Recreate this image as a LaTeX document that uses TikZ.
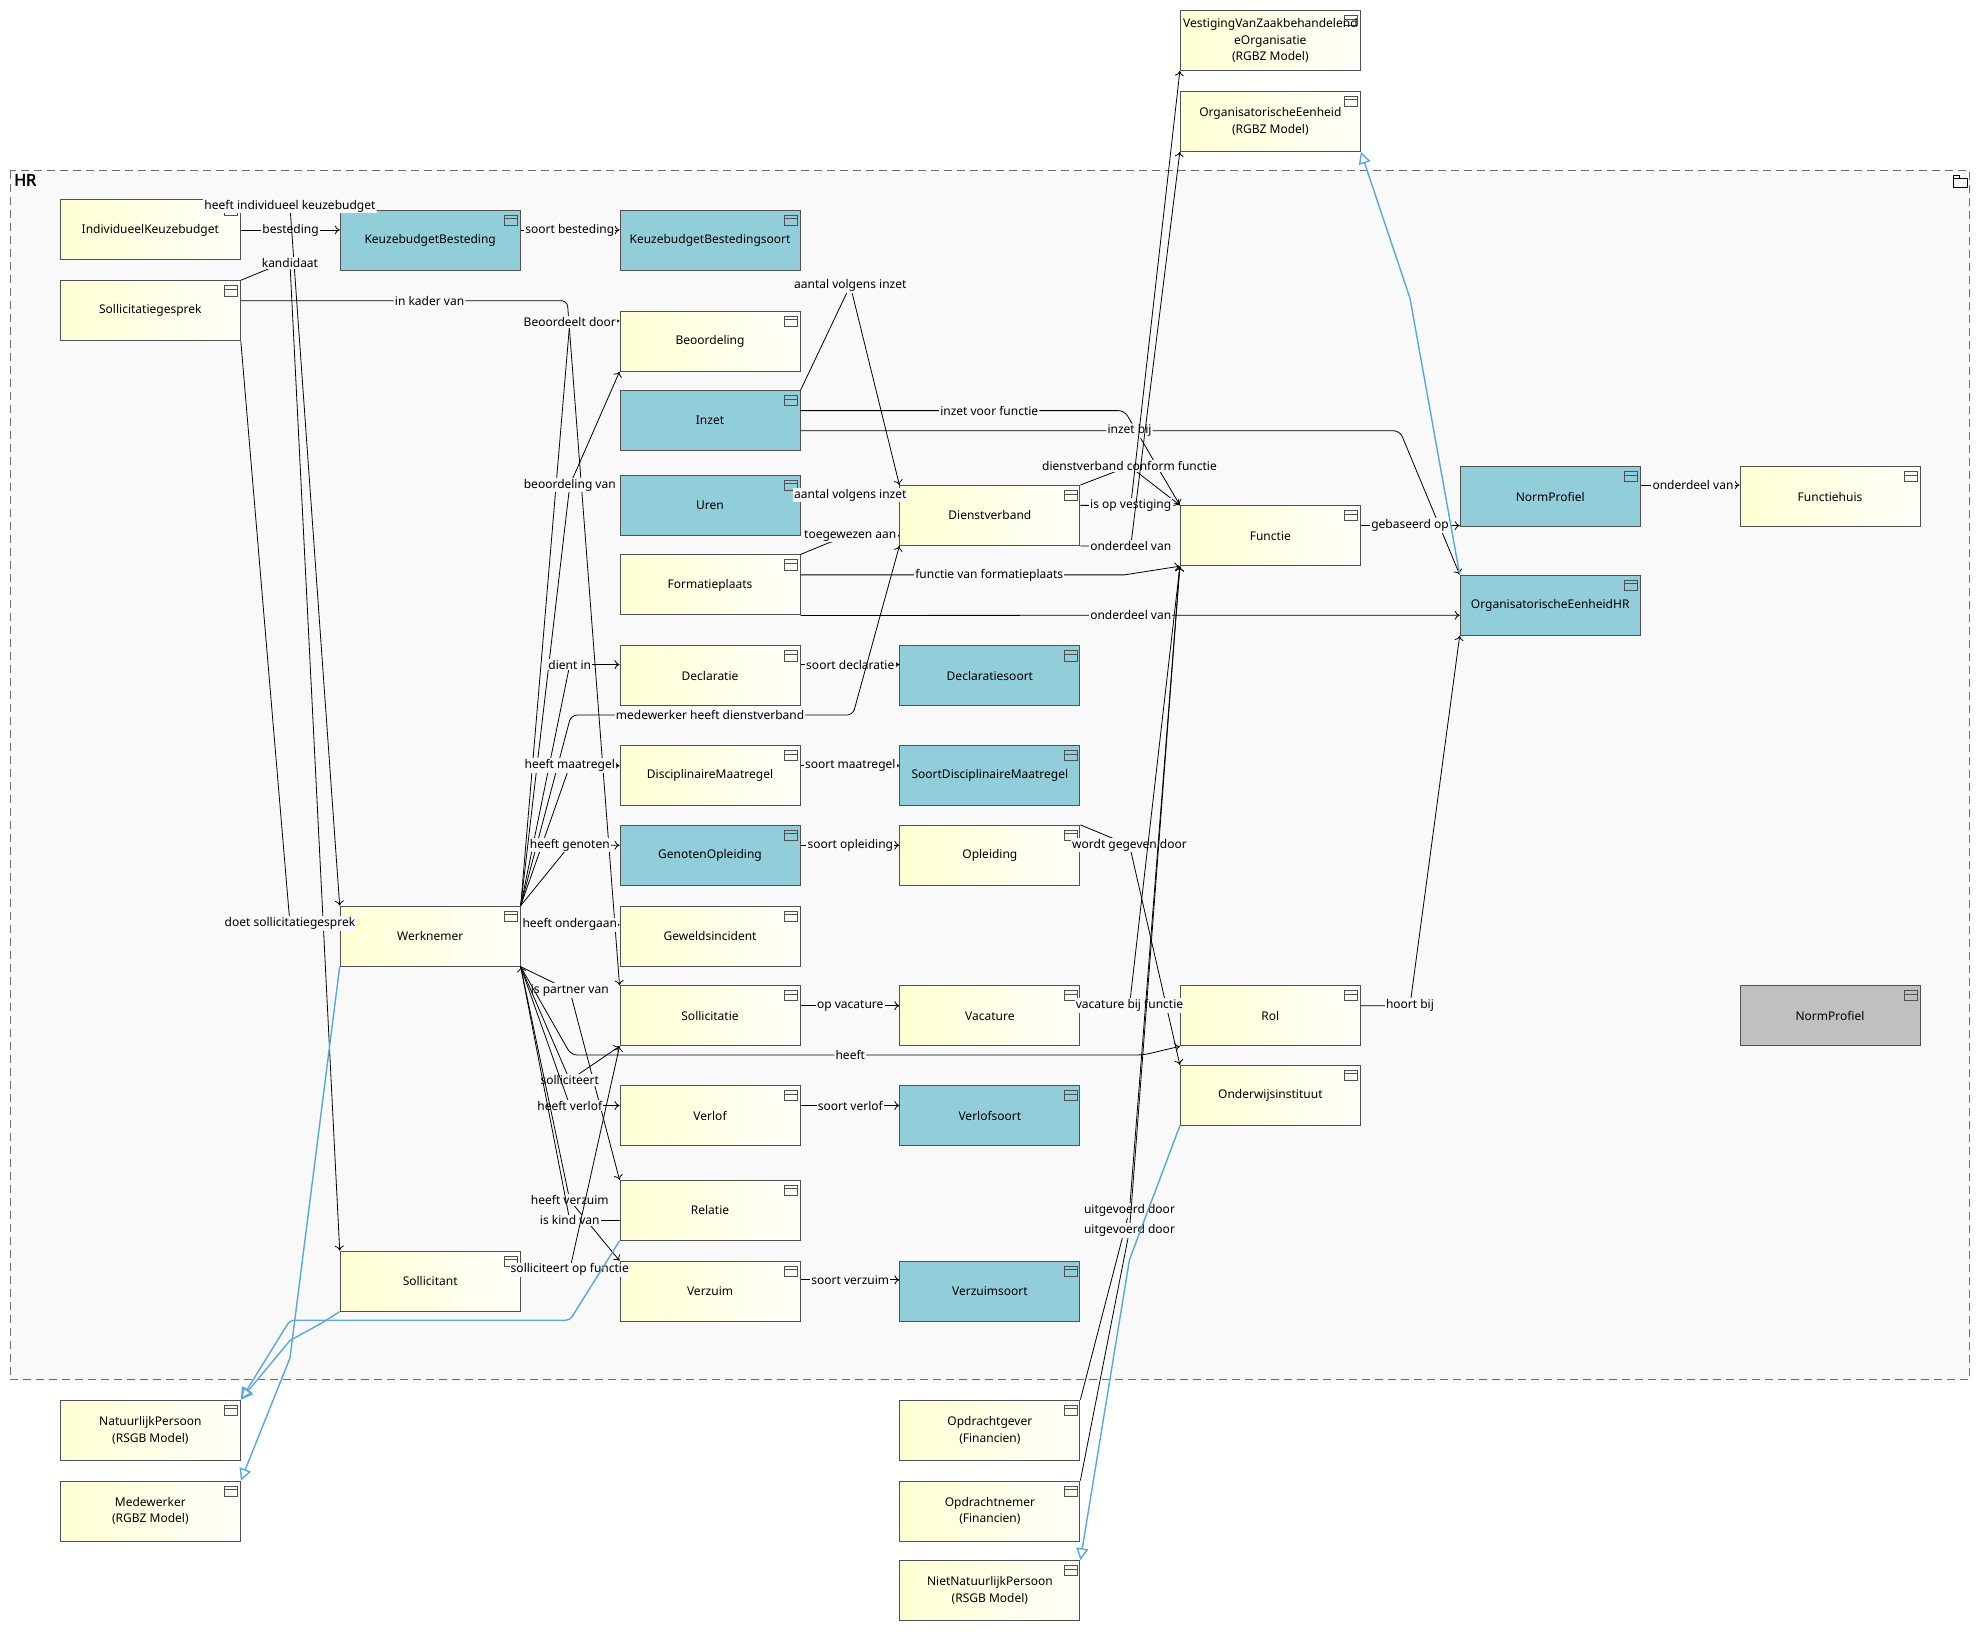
\documentclass[tikz,border=0pt]{standalone}
\usepackage{fontspec}
\setmainfont{Noto Sans}
\newfontfamily\hrfont[FakeBold=2.5]{Noto Sans}
\usetikzlibrary{arrows.meta}

\definecolor{boxyel}{RGB}{255,255,212}
\definecolor{boxwhite}{RGB}{255,255,250}
\definecolor{boxblue}{RGB}{146,205,218}
\definecolor{boxgray}{RGB}{192,192,192}
\definecolor{boxline}{RGB}{80,80,80}
\definecolor{pkgfill}{RGB}{249,249,249}
\definecolor{pkgline}{RGB}{110,110,110}
\definecolor{genblue}{RGB}{88,168,224}

\begin{document}
\begin{tikzpicture}[x=0.6317pt,y=-0.6317pt,
cls/.style={draw=boxline,line width=0.5pt,minimum width=90pt,minimum height=30pt,inner sep=1pt,align=center,font=\fontsize{6}{8.3}\selectfont,
 path picture={
  \draw[line width=0.5pt] ([xshift=-7.9pt,yshift=-2.5pt]path picture bounding box.north east) rectangle ([xshift=-1.3pt,yshift=-7.6pt]path picture bounding box.north east);
  \draw[line width=0.5pt] ([xshift=-7.9pt,yshift=-4.3pt]path picture bounding box.north east) -- ([xshift=-1.3pt,yshift=-4.3pt]path picture bounding box.north east);}},
obj/.style={cls,left color=boxyel,right color=boxwhite},
objblue/.style={cls,fill=boxblue},
objgray/.style={cls,fill=boxgray},
lbl/.style={font=\fontsize{6}{7}\selectfont,fill=pkgfill,inner sep=0.6pt},
arrow/.style={-{To[length=2.5pt,width=4.5pt]},line width=0.4pt},
line/.style={line width=0.4pt},
genarrow/.style={-{Triangle[open,length=6pt,width=6pt]},draw=genblue,line width=0.7pt}]

\useasboundingbox (0,0) rectangle (1568,1291);

\draw[draw=pkgline,fill=pkgfill,line width=0.5pt,dash pattern=on 4pt off 2.5pt] (8,135) rectangle (1559,1092);

\node[anchor=north west,inner sep=0pt,font=\hrfont\fontsize{8}{9}\selectfont] (hrtitle) at (11,137.5) {HR};

\draw[line width=0.4pt] (1546,141) rectangle (1557,148);
\draw[line width=0.4pt] (1546,141) -- (1546,138.5) -- (1551,138.5) -- (1551,141);

\node[obj] (vestiging) at (1005.5,32) {VestigingVanZaakbehandelend\\eOrganisatie\\(RGBZ Model)};

\node[obj] (orgeenheid) at (1005.5,96) {OrganisatorischeEenheid\\(RGBZ Model)};

\node[obj] (indkb) at (119,182) {IndividueelKeuzebudget};

\node[objblue] (kbbest) at (340.5,190) {KeuzebudgetBesteding};

\node[objblue] (kbbsoort) at (562,190) {KeuzebudgetBestedingsoort};

\node[obj] (sgesprek) at (119,246) {Sollicitatiegesprek};

\node[obj] (beoord) at (562,270) {Beoordeling};

\node[objblue] (inzet) at (562,333) {Inzet};

\node[objblue] (uren) at (562,400) {Uren};

\node[obj] (dienstv) at (783.5,408) {Dienstverband};

\node[obj] (functie) at (1005.5,424) {Functie};

\node[objblue] (normprof) at (1227,393) {NormProfiel};

\node[obj] (functiehuis) at (1448.5,393) {Functiehuis};

\node[obj] (formplaats) at (562,463) {Formatieplaats};

\node[objblue] (oehr) at (1227,479) {OrganisatorischeEenheidHR};

\node[obj] (decl) at (562,535) {Declaratie};

\node[objblue] (declsoort) at (783.5,535) {Declaratiesoort};

\node[obj] (dismaatr) at (562,614) {DisciplinaireMaatregel};

\node[objblue] (soortdis) at (783.5,614) {SoortDisciplinaireMaatregel};

\node[objblue] (genopl) at (562,677) {GenotenOpleiding};

\node[obj] (opleid) at (783.5,677) {Opleiding};

\node[obj] (werkn) at (340.5,741) {Werknemer};

\node[obj] (geweld) at (562,741) {Geweldsincident};

\node[obj] (sollic) at (562,804) {Sollicitatie};

\node[obj] (vacature) at (783.5,804) {Vacature};

\node[obj] (rol) at (1005.5,804) {Rol};

\node[objgray] (normgrijs) at (1448.5,804) {NormProfiel};

\node[obj] (onderwijs) at (1005.5,867) {Onderwijsinstituut};

\node[obj] (verlof) at (562,883) {Verlof};

\node[objblue] (verlofsoort) at (783.5,883) {Verlofsoort};

\node[obj] (relatie) at (562,958) {Relatie};

\node[obj] (sollicitant) at (340.5,1014) {Sollicitant};

\node[obj] (verzuim) at (562,1022) {Verzuim};

\node[objblue] (verzuimsoort) at (783.5,1022) {Verzuimsoort};

\node[obj] (natpers) at (119,1132) {NatuurlijkPersoon\\(RSGB Model)};

\node[obj] (opdrgever) at (783.5,1132) {Opdrachtgever\\(Financien)};

\node[obj] (medew) at (119,1196) {Medewerker\\(RGBZ Model)};

\node[obj] (opdrnemer) at (783.5,1196) {Opdrachtnemer\\(Financien)};

\node[obj] (nietnat) at (783.5,1259) {NietNatuurlijkPersoon\\(RSGB Model)};

\draw[arrow] (indkb.east) -- (230,182) node[lbl] {besteding} -- (kbbest.west |- 0,182);

\draw[arrow] (kbbest.east |- 0,182) -- (451,182) node[lbl] {soort besteding} -- (kbbsoort.west |- 0,182);

\draw[arrow] (indkb.east |- 0,165) -- (229.5,163) node[lbl] {heeft individueel keuzebudget} -- (werkn.north west);

\draw[arrow] (sgesprek.north east) -- (212,213) -- (229.5,208) node[lbl] {kandidaat} -- (sollicitant.north west);

\draw[line] (sgesprek.south east) -- (229.5,731) node[lbl] {doet sollicitatiegesprek} -- (werkn.west |- 0,732);

\draw[arrow,rounded corners=3pt] (sgesprek.east |- 0,238) -- (340,238) node[lbl] {in kader van} -- (449,238) -- (sollic.north west);

\draw[arrow] (werkn.north east) -- (451,255) node[lbl] {Beoordeelt door} -- (beoord.west |- 0,254);

\draw[arrow] (werkn.north east) -- (451,384) node[lbl] {beoordeling van} -- (beoord.south west);

\draw[arrow] (inzet.north east) -- (673,226) node[lbl] {aantal volgens inzet} -- (dienstv.north west);

\draw[arrow] (uren.east |- 0,392) -- (673,392) node[lbl] {aantal volgens inzet} -- (dienstv.west |- 0,392);

\draw[arrow] (formplaats.north east) -- (655,430) -- (673,424) node[lbl] {toegewezen aan} -- (dienstv.west |- 0,424);

\draw[arrow,rounded corners=3pt] (inzet.east |- 0,325) -- (783,325) node[lbl] {inzet voor functie} -- (890,325) -- (functie.north west);

\draw[arrow,rounded corners=3pt] (inzet.east |- 0,341) -- (894,341) node[lbl] {inzet bij} -- (1108,341) -- (oehr.north west);

\draw[arrow] (dienstv.north east) -- (894,369) node[lbl] {dienstverband conform functie} -- (functie.north west);

\draw[arrow] (dienstv.east |- 0,400) -- (895,400) node[lbl] {is op vestiging} -- (vestiging.south west);

\draw[arrow] (dienstv.south east) -- (895,432) node[lbl] {onderdeel van} -- (orgeenheid.south west);

\draw[arrow] (formplaats.east |- 0,455) -- (783,455) node[lbl] {functie van formatieplaats} -- (890,455) -- (functie.south west);

\draw[arrow] (formplaats.south east) -- (895,487) node[lbl] {onderdeel van} -- (oehr.west |- 0,487);

\draw[arrow] (functie.east |- 0,416) -- (1116,416) node[lbl] {gebaseerd op} -- (normprof.west |- 0,416);

\draw[arrow] (normprof.east |- 0,384) -- (1340,384) node[lbl] {onderdeel van} -- (functiehuis.west |- 0,384);

\draw[arrow] (werkn.north east) -- (451,526) node[lbl] {dient in} -- (decl.west |- 0,526);

\draw[arrow] (decl.east |- 0,526) -- (673,526) node[lbl] {soort declaratie} -- (declsoort.west |- 0,526);

\draw[arrow,rounded corners=3pt] (werkn.north east) -- (452,566) -- (562,566) node[lbl] {medewerker heeft dienstverband} -- (675,566) -- (dienstv.south west);

\draw[arrow] (werkn.north east) -- (451,606) node[lbl] {heeft maatregel} -- (dismaatr.west |- 0,606);

\draw[arrow] (dismaatr.east |- 0,606) -- (673,606) node[lbl] {soort maatregel} -- (soortdis.west |- 0,606);

\draw[arrow] (werkn.north east) -- (451,669) node[lbl] {heeft genoten} -- (genopl.west |- 0,669);

\draw[arrow] (genopl.east |- 0,669) -- (673,669) node[lbl] {soort opleiding} -- (opleid.west |- 0,669);

\draw[arrow] (opleid.north east) -- (894,669) node[lbl] {wordt gegeven door} -- (onderwijs.north west);

\draw[arrow] (werkn.east |- 0,732) -- (451,732) node[lbl] {heeft ondergaan} -- (geweld.west |- 0,732);

\draw[arrow] (sollic.east |- 0,796) -- (673,796) node[lbl] {op vacature} -- (vacature.west |- 0,796);

\draw[arrow] (vacature.east |- 0,796) -- (894,796) node[lbl] {vacature bij functie} -- (functie.south west);

\draw[arrow] (rol.east |- 0,796) -- (1116,796) node[lbl] {hoort bij} -- (oehr.south west);

\draw[arrow] (werkn.south east) -- (451,784) node[lbl] {is partner van} -- (relatie.north west);

\draw[arrow,rounded corners=3pt] (werkn.south east) -- (452,835) -- (673,835) node[lbl] {heeft} -- (905,835) -- (rol.south west);

\draw[arrow] (werkn.south east) -- (451,855) node[lbl] {solliciteert} -- (sollic.south west);

\draw[arrow] (werkn.south east) -- (451,875) node[lbl] {heeft verlof} -- (verlof.west |- 0,875);

\draw[arrow] (verlof.east |- 0,875) -- (673,875) node[lbl] {soort verlof} -- (verlofsoort.west |- 0,875);

\draw[arrow] (werkn.south east) -- (451,950) node[lbl] {heeft verzuim} -- (verzuim.north west);

\draw[arrow] (relatie.west |- 0,966) -- (451,966) node[lbl] {is kind van} -- (werkn.south east);

\draw[arrow] (verzuim.east |- 0,1013) -- (673,1013) node[lbl] {soort verzuim} -- (verzuimsoort.west |- 0,1013);

\draw[arrow] (sollicitant.east |- 0,1005) -- (451,1005) node[lbl] {solliciteert op functie} -- (sollic.south west);

\draw[arrow] (opdrgever.north east) -- (894,958) node[lbl] {uitgevoerd door} -- (functie.south west);

\draw[arrow] (opdrnemer.north east) -- (894,974) node[lbl] {uitgevoerd door} -- (functie.south west);

\draw[genarrow] (oehr.north west) -- (1116,236) -- (orgeenheid.south east);

\draw[genarrow] (onderwijs.south west) -- (894,997) -- (nietnat.north east);

\draw[genarrow] (sollicitant.south west) -- (255,1047) -- (229.5,1061) -- (natpers.north east);

\draw[genarrow,rounded corners=2pt] (relatie.south west) -- (451,1045) -- (229.5,1045) -- (natpers.north east);

\draw[genarrow] (werkn.south west) -- (229.5,1075) -- (medew.north east);

\end{tikzpicture}
\end{document}
